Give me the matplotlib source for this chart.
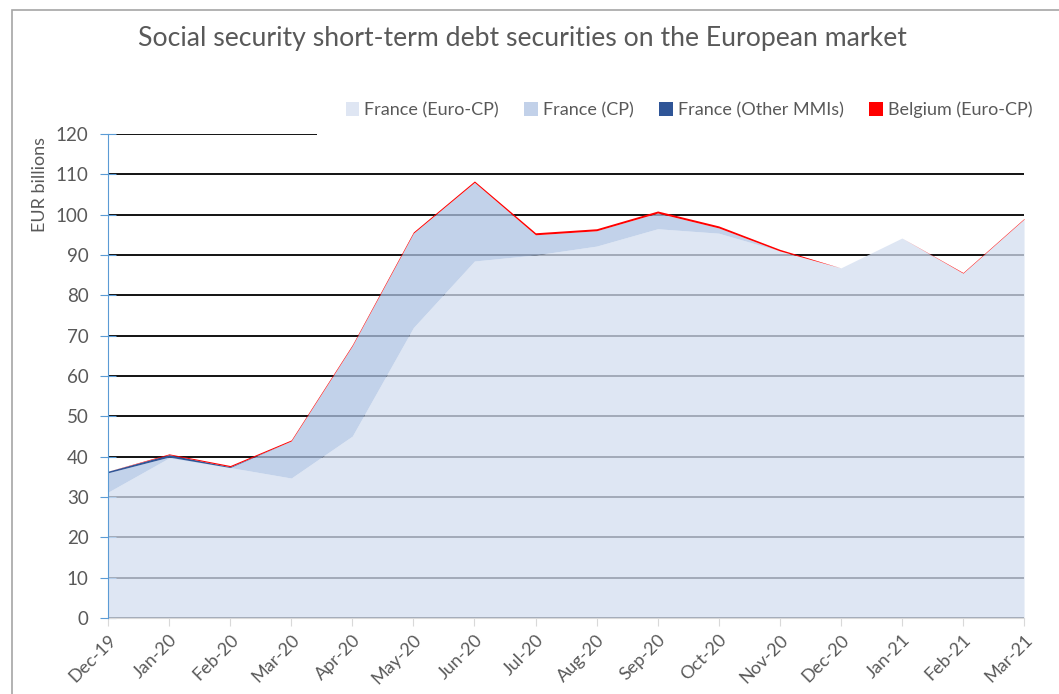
import numpy as np
import matplotlib.pyplot as plt
from matplotlib.patches import Rectangle, Patch

# monthly categories
months = ['Dec-19', 'Jan-20', 'Feb-20', 'Mar-20', 'Apr-20', 'May-20', 'Jun-20', 'Jul-20',
          'Aug-20', 'Sep-20', 'Oct-20', 'Nov-20', 'Dec-20', 'Jan-21', 'Feb-21', 'Mar-21']

# EUR billions
france_euro_cp = [31.2, 39.7, 37.3, 34.7, 45.1, 72.0, 88.5, 90.0,
                  92.2, 96.5, 95.4, 91.0, 86.8, 94.2, 85.5, 98.9]
france_cp = [4.8, 0.2, 0.0, 9.2, 22.4, 23.4, 19.5, 5.0,
             3.8, 3.9, 1.3, 0.0, 0.0, 0.0, 0.0, 0.0]
france_other_mmis = [0.4, 0.6, 0.2, 0.0, 0.0, 0.0, 0.0, 0.0,
                     0.0, 0.0, 0.0, 0.0, 0.0, 0.0, 0.0, 0.0]
belgium_euro_cp = [0.0, 0.2, 0.3, 0.25, 0.25, 0.3, 0.35, 0.5,
                   0.5, 0.5, 0.5, 0.4, 0.0, 0.0, 0.15, 0.15]

series = [france_euro_cp, france_cp, france_other_mmis, belgium_euro_cp]
labels = ['France (Euro-CP)', 'France (CP)', 'France (Other MMIs)', 'Belgium (Euro-CP)']
colors = ['#d3def0', '#aec3e3', '#2f5597', '#ff0000']
legend_colors = ['#dfe6f3', '#c2d1e9', '#2f5597', '#ff0000']
alphas = [0.75, 0.75, 1.0, 1.0]

grey_txt = '#595959'
plt.rcParams['font.family'] = ['Lato', 'DejaVu Sans']

fig = plt.figure(figsize=(10.59, 6.94), dpi=100)
ax = fig.add_axes([0.102, 0.1095, 0.865, 0.6975])

x = np.arange(len(months))
bottom = np.zeros(len(months))
for vals, c, a in zip(series, colors, alphas):
    top = bottom + np.array(vals)
    ax.fill_between(x, bottom, top, color=c, alpha=a, lw=0, zorder=2)
    bottom = top

ax.set_xlim(0, len(months) - 1)
ax.set_ylim(0, 120)
ax.set_yticks(range(0, 121, 10))
ax.yaxis.grid(True, color='black', lw=1.3, zorder=0)
ax.set_axisbelow(True)

ax.set_xticks(x)
ax.set_xticklabels(months, rotation=45, ha='right', rotation_mode='anchor',
                   fontsize=13, color=grey_txt)
ax.tick_params(axis='x', direction='out', length=6, color='#d9d9d9', pad=4)
ax.tick_params(axis='y', direction='inout', length=12, color='#5b9bd5', labelsize=13.5,
               labelcolor=grey_txt, pad=8)

for s in ['top', 'right']:
    ax.spines[s].set_visible(False)
ax.spines['left'].set_color('#5b9bd5')
ax.spines['left'].set_zorder(5)
ax.spines['bottom'].set_color('#d9d9d9')

ax.set_ylabel('EUR billions', fontsize=13, color=grey_txt)
ax.yaxis.set_label_coords(-0.065, 0.895)

fig.text(0.493, 0.945, 'Social security short-term debt securities on the European market',
         ha='center', va='center', fontsize=19.2, color=grey_txt)

handles = [Patch(facecolor=c) for c in legend_colors]
leg = ax.legend(handles, labels, ncol=4, loc='center left',
                bbox_to_anchor=(0.299, 0.8415), bbox_transform=fig.transFigure,
                frameon=True, facecolor='white', edgecolor='none', framealpha=1,
                fontsize=13, handlelength=0.75, handleheight=0.75, handletextpad=0.3,
                columnspacing=1.4, borderpad=1.6, borderaxespad=0)
for t in leg.get_texts():
    t.set_color(grey_txt)
leg.set_zorder(10)

# outer chart border
fig.patches.append(Rectangle((12 / 1059, -0.5), 1.5, 1.5 - 10 / 694,
                             transform=fig.transFigure, fill=False, ec='#a6a6a6', lw=1.2))

fig.savefig('out.png', dpi=100)
